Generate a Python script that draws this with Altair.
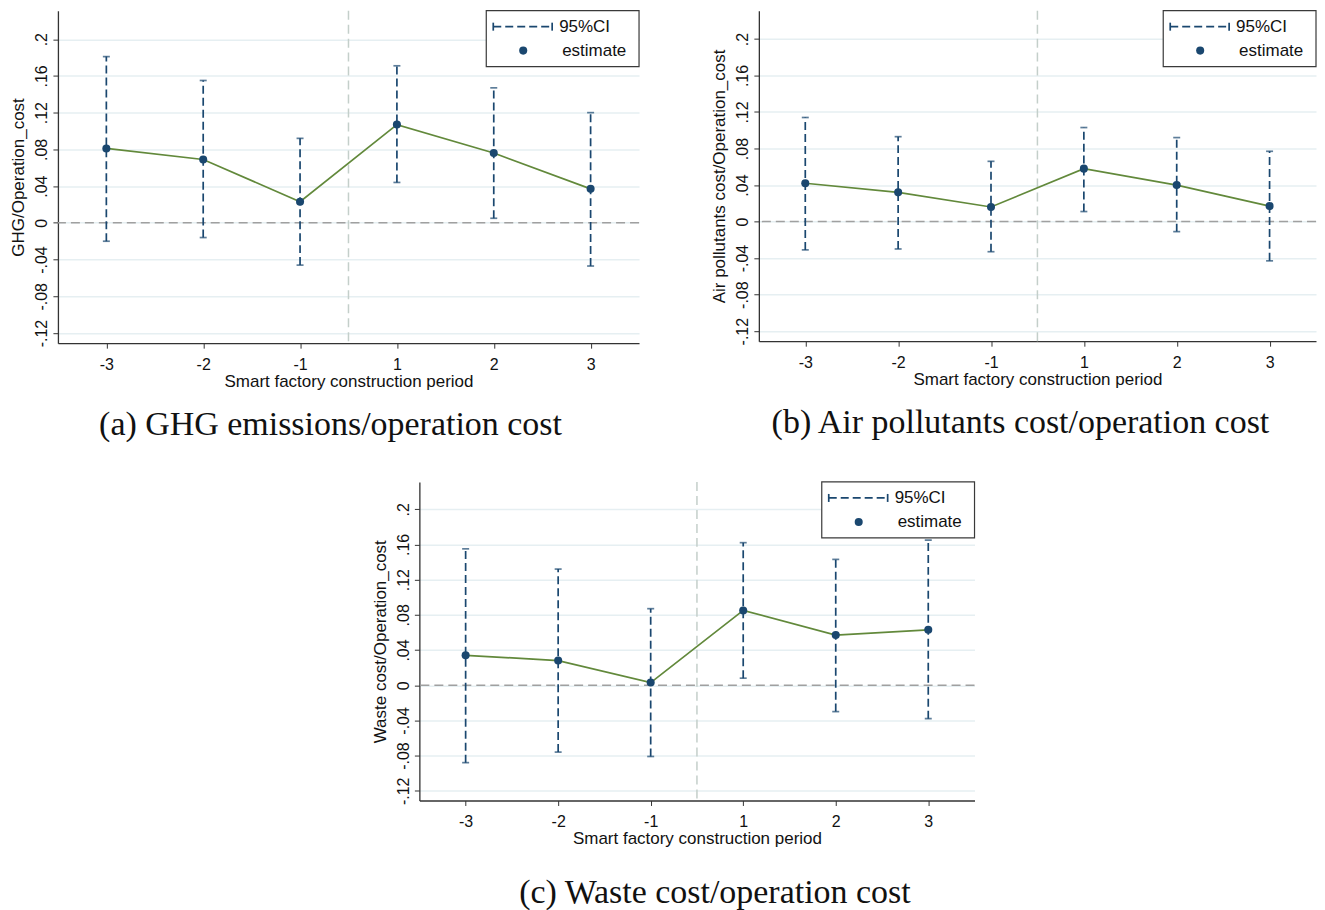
import json
import altair as alt
import pandas as pd

# ---------------- data ----------------
periods = ["-3", "-2", "-1", "1", "2", "3"]

est_a = [0.081, 0.069, 0.023, 0.107, 0.076, 0.037]
lo_a = [-0.020, -0.016, -0.046, 0.044, 0.005, -0.047]
hi_a = [0.181, 0.155, 0.092, 0.171, 0.147, 0.120]

est_b = [0.042, 0.032, 0.016, 0.058, 0.040, 0.017]
lo_b = [-0.031, -0.030, -0.033, 0.011, -0.011, -0.043]
hi_b = [0.114, 0.093, 0.066, 0.103, 0.092, 0.077]

est_c = [0.034, 0.028, 0.003, 0.085, 0.057, 0.063]
lo_c = [-0.088, -0.076, -0.081, 0.008, -0.030, -0.038]
hi_c = [0.155, 0.132, 0.087, 0.162, 0.143, 0.165]

y_ticks = [-0.12, -0.08, -0.04, 0, 0.04, 0.08, 0.12, 0.16, 0.2]
y_domain = [-0.131, 0.231]

NAVY = "#1a476f"
GREEN = "#62893b"
SANS = "Liberation Sans"
SERIF = "Liberation Serif"


def X(field):
    return alt.X(
        f"{field}:Q",
        scale=alt.Scale(domain=[-0.5, len(periods) - 0.5], nice=False, zero=False),
        axis=alt.Axis(
            values=list(range(len(periods))),
            labelExpr=json.dumps(periods).replace('"', "'") + "[datum.value]",
            title="Smart factory construction period",
            grid=False,
        ),
    )


def Y(field, ytitle):
    return alt.Y(
        f"{field}:Q",
        scale=alt.Scale(domain=y_domain, nice=False, zero=False),
        axis=alt.Axis(
            values=y_ticks,
            labelExpr="replace(replace(format(datum.value, '.2~f'), '0.', '.'), '\u2212', '-')",
            labelAngle=-90,
            labelAlign="center",
            labelBaseline="bottom",
            title=ytitle,
            grid=True,
        ),
    )


def panel(est, lo, hi, ytitle, caption, w, h, cap_offset, cap_dx):
    df = pd.DataFrame({"idx": list(range(len(periods))), "est": est, "lo": lo, "hi": hi})
    base = alt.Chart(df)
    one = alt.Chart(pd.DataFrame({"z": [0], "v": [2.5]}))

    zero = one.mark_rule(strokeDash=[9, 5], color="#a0a0a0", strokeWidth=1.5).encode(y=Y("z", ytitle))
    vline = one.mark_rule(strokeDash=[9, 5], color="#c4cfca", strokeWidth=1.5).encode(x=X("v"))
    bars = base.mark_rule(strokeDash=[8, 4], color=NAVY, strokeWidth=1.7).encode(
        x=X("idx"), y=Y("lo", ytitle), y2="hi"
    )
    cap_hi = base.mark_tick(orient="horizontal", size=7, thickness=1.7, color=NAVY).encode(
        x=X("idx"), y=Y("hi", ytitle)
    )
    cap_lo = base.mark_tick(orient="horizontal", size=7, thickness=1.7, color=NAVY).encode(
        x=X("idx"), y=Y("lo", ytitle)
    )
    line = base.mark_line(color=GREEN, strokeWidth=1.7).encode(x=X("idx"), y=Y("est", ytitle))
    pts = base.mark_circle(size=65, color=NAVY, opacity=1).encode(x=X("idx"), y=Y("est", ytitle))

    # legend box
    lw, lh = 153, 56
    x0 = w - lw
    box = one.mark_rect(fill="white", stroke="#3a3a3a", strokeWidth=1.2).encode(
        x=alt.value(x0), x2=alt.value(w), y=alt.value(0), y2=alt.value(lh)
    )
    leg_line = one.mark_rule(strokeDash=[8, 4], color=NAVY, strokeWidth=1.7).encode(
        x=alt.value(x0 + 7), x2=alt.value(x0 + 66), y=alt.value(16)
    )
    leg_cap1 = one.mark_rule(color=NAVY, strokeWidth=1.7).encode(
        x=alt.value(x0 + 7), y=alt.value(12), y2=alt.value(20)
    )
    leg_cap2 = one.mark_rule(color=NAVY, strokeWidth=1.7).encode(
        x=alt.value(x0 + 66), y=alt.value(12), y2=alt.value(20)
    )
    leg_dot = one.mark_circle(size=65, color=NAVY, opacity=1).encode(
        x=alt.value(x0 + 37), y=alt.value(40)
    )
    leg_t1 = one.mark_text(text="95%CI", align="left", baseline="middle", font=SANS, fontSize=17, color="#111").encode(
        x=alt.value(x0 + 73), y=alt.value(16)
    )
    leg_t2 = one.mark_text(text="estimate", align="left", baseline="middle", font=SANS, fontSize=17, color="#111").encode(
        x=alt.value(x0 + 76), y=alt.value(40)
    )

    return alt.layer(
        vline, zero, bars, cap_hi, cap_lo, line, pts,
        box, leg_line, leg_cap1, leg_cap2, leg_dot, leg_t1, leg_t2,
    ).properties(
        width=w,
        height=h,
        title=alt.TitleParams(
            caption, orient="bottom", font=SERIF, fontSize=34, fontWeight="normal",
            color="#111", offset=cap_offset, anchor="middle", dx=cap_dx,
        ),
    )


pa = panel(est_a, lo_a, hi_a, "GHG/Operation_cost", "(a) GHG emissions/operation cost", 582, 333, 19, -18)
pb = panel(est_b, lo_b, hi_b, "Air pollutants cost/Operation_cost", "(b) Air pollutants cost/operation cost", 558, 331, 19, -17)
pc = panel(est_c, lo_c, hi_c, "Waste cost/Operation_cost", "(c) Waste cost/operation cost", 556, 319, 30, 18)

spacer = alt.Chart(pd.DataFrame({"z": [0]})).mark_point(opacity=0).encode(
    x=alt.X("z:Q", axis=None), y=alt.Y("z:Q", axis=None)
).properties(width=294, height=10)

top = alt.hconcat(pa, pb, spacing=71)
bottom = alt.hconcat(spacer, pc, spacing=20)

chart = alt.vconcat(top, bottom, spacing=39).properties(
    padding={"left": 1, "top": 1, "right": 0, "bottom": 0}
).configure_view(stroke=None).configure_axis(
    labelFont=SANS, titleFont=SANS, labelFontSize=16, titleFontSize=17,
    labelColor="#111", titleColor="#111", titleFontWeight="normal",
    domainColor="#333", domainWidth=1.3, tickColor="#333", tickSize=5,
    gridColor="#e6eff2", gridWidth=1.5, labelPadding=8, titlePadding=4,
).configure_axisX(titlePadding=1).configure_axisY(titlePadding=6, labelPadding=3)

chart.save("out.html", embed_options={"renderer": "svg", "actions": False})
